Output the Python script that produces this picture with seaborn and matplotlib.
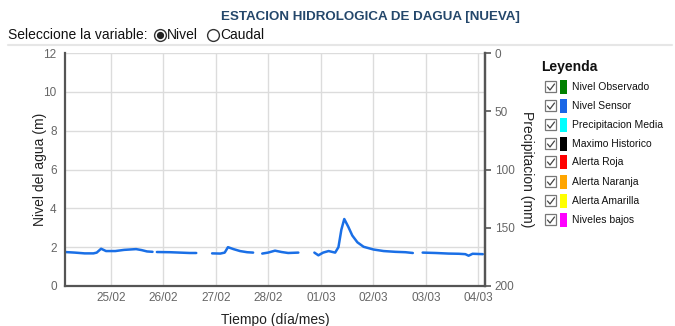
import matplotlib
matplotlib.use("Agg")
import matplotlib.pyplot as plt
import seaborn as sns
import pandas as pd
import numpy as np
from matplotlib.lines import Line2D
from matplotlib.patches import Rectangle
import matplotlib.dates as mdates

# Sensor level readings, one list per continuous stretch (gaps between stretches)
seg_times = [
    ["2023-02-24 03:00", "2023-02-24 07:30", "2023-02-24 12:00", "2023-02-24 16:00",
     "2023-02-24 17:30", "2023-02-24 19:30", "2023-02-24 21:45", "2023-02-25 02:00",
     "2023-02-25 06:00", "2023-02-25 08:45", "2023-02-25 11:30", "2023-02-25 14:00",
     "2023-02-25 16:30", "2023-02-25 19:00"],
    ["2023-02-25 21:00", "2023-02-26 03:00", "2023-02-26 07:30", "2023-02-26 12:00",
     "2023-02-26 15:00"],
    ["2023-02-26 22:15", "2023-02-27 02:00", "2023-02-27 04:00", "2023-02-27 05:30",
     "2023-02-27 08:00", "2023-02-27 11:00", "2023-02-27 14:15", "2023-02-27 17:00"],
    ["2023-02-27 21:10", "2023-02-27 23:50", "2023-02-28 03:00", "2023-02-28 06:00",
     "2023-02-28 09:00", "2023-02-28 13:40"],
    ["2023-02-28 21:00", "2023-02-28 22:50", "2023-03-01 01:00", "2023-03-01 03:30",
     "2023-03-01 06:30", "2023-03-01 08:00", "2023-03-01 09:20", "2023-03-01 10:40",
     "2023-03-01 12:30", "2023-03-01 14:20", "2023-03-01 16:40", "2023-03-01 19:30",
     "2023-03-02 00:00", "2023-03-02 04:40", "2023-03-02 10:00", "2023-03-02 14:40",
     "2023-03-02 18:00"],
    ["2023-03-02 22:30", "2023-03-03 04:30", "2023-03-03 10:20", "2023-03-03 15:00",
     "2023-03-03 18:00", "2023-03-03 19:30", "2023-03-03 21:20", "2023-03-04 02:00"],
]
seg_levels = [
    [1.75, 1.72, 1.68, 1.68, 1.72, 1.92, 1.80, 1.80, 1.86, 1.88, 1.90, 1.85, 1.78, 1.76],
    [1.75, 1.74, 1.72, 1.70, 1.70],
    [1.68, 1.67, 1.72, 2.00, 1.90, 1.80, 1.74, 1.72],
    [1.67, 1.72, 1.82, 1.75, 1.70, 1.72],
    [1.72, 1.58, 1.72, 1.80, 1.72, 2.00, 2.90, 3.45, 3.05, 2.60, 2.25, 2.02, 1.88,
     1.80, 1.76, 1.74, 1.70],
    [1.72, 1.70, 1.67, 1.66, 1.64, 1.56, 1.66, 1.64],
]

x_start, x_end = "2023-02-24 03:00", "2023-03-04 03:00"
level_ticks = [0, 2, 4, 6, 8, 10, 12]
precip_ticks = [0, 50, 100, 150, 200]

legend_labels = ["Nivel Observado", "Nivel Sensor", "Precipitacion Media",
                 "Maximo Historico", "Alerta Roja", "Alerta Naranja",
                 "Alerta Amarilla", "Niveles bajos"]
legend_colors = ["#008000", "#1a66e6", "#00ffff", "#000000", "#ff0000",
                 "#ffa500", "#ffff00", "#ff00ff"]

sns.set_theme(style="white")
plt.rcParams["font.family"] = ["Liberation Sans", "DejaVu Sans"]

fig = plt.figure(figsize=(6.75, 3.26), dpi=100)
W, H = 675, 326


def fx(px):
    return px / W


def fy(py):
    return 1 - py / H


ax = fig.add_axes([fx(65), fy(286), fx(485) - fx(65), fy(53) - fy(286)])

# Join stretches with NaN breaks so the line shows gaps
frames = []
for i, (t, v) in enumerate(zip(seg_times, seg_levels)):
    frames.append(pd.DataFrame({"tiempo": pd.to_datetime(t), "nivel": v}))
    if i < len(seg_times) - 1:
        gap_t = pd.to_datetime(t[-1]) + pd.Timedelta(minutes=30)
        frames.append(pd.DataFrame({"tiempo": [gap_t], "nivel": [np.nan]}))
df = pd.concat(frames, ignore_index=True)

ax.plot(df["tiempo"], df["nivel"], color="#1a6fe6", lw=1.8, solid_capstyle="round",
        solid_joinstyle="round")

ax.set_xlim(pd.Timestamp(x_start), pd.Timestamp(x_end))
ax.set_ylim(0, 12)
ax.set_yticks(level_ticks)
ax.xaxis.set_major_locator(mdates.DayLocator(bymonthday=[25, 26, 27, 28, 1, 2, 3, 4]))
ax.xaxis.set_major_formatter(mdates.DateFormatter("%d/%m"))
ax.grid(True, color="#dcdcdc", lw=1.0)
ax.set_axisbelow(True)
ax.tick_params(axis="both", length=0, labelsize=8.5, labelcolor="#666666", pad=4)
ax.tick_params(axis="y", pad=6)
for side in ["left", "bottom", "right"]:
    ax.spines[side].set_color("#555555")
    ax.spines[side].set_linewidth(1.6)
ax.spines["top"].set_visible(False)
ax.set_ylabel("Nivel del agua (m)", fontsize=10, color="#222222", va="center")
ax.yaxis.set_label_coords(-0.06, 0.5)
ax.set_xlabel("Tiempo (día/mes)", fontsize=10, color="#222222", va="center")
ax.xaxis.set_label_coords(0.5, -0.146)

ax2 = ax.twinx()
ax2.set_ylim(200, 0)
ax2.set_yticks(precip_ticks)
ax2.tick_params(axis="y", length=4, width=1.2, color="#555555", labelsize=8.5,
                labelcolor="#666666", pad=3)
for side in ["left", "bottom", "top"]:
    ax2.spines[side].set_visible(False)
ax2.spines["right"].set_color("#555555")
ax2.spines["right"].set_linewidth(1.6)
ax2.set_ylabel("Precipitacion (mm)", fontsize=10, color="#222222", rotation=270,
               va="center")
ax2.yaxis.set_label_coords(1.1, 0.5)

# Header
fig.text(fx(370), fy(17), "ESTACION HIDROLOGICA DE DAGUA [NUEVA]", ha="center",
         va="center", fontsize=9.6, fontweight="bold", color="#24476b")
fig.text(fx(8), fy(35), "Seleccione la variable:", ha="left", va="center",
         fontsize=10, color="#111111")
fig.add_artist(Line2D([fx(160)], [fy(35)], marker="o", ms=8.5, mfc="white",
                      mec="#333333", mew=1.0, transform=fig.transFigure))
fig.add_artist(Line2D([fx(160)], [fy(35)], marker="o", ms=4.2, mfc="#222222",
                      mec="#222222", transform=fig.transFigure))
fig.text(fx(167), fy(35), "Nivel", ha="left", va="center", fontsize=10, color="#111111")
fig.add_artist(Line2D([fx(213)], [fy(35)], marker="o", ms=8.5, mfc="white",
                      mec="#333333", mew=1.0, transform=fig.transFigure))
fig.text(fx(220), fy(35), "Caudal", ha="left", va="center", fontsize=10, color="#111111")
fig.add_artist(Line2D([fx(8), fx(672)], [fy(44.5), fy(44.5)], color="#e6e6e6",
                      lw=1.5, transform=fig.transFigure))

# Legend panel
fig.text(fx(541), fy(67), "Leyenda", ha="left", va="center", fontsize=10,
         fontweight="bold", color="#111111")
row_y = [87, 106, 125, 144, 162, 182, 201, 220]
for yy, lab, col in zip(row_y, legend_labels, legend_colors):
    fig.add_artist(Rectangle((fx(545), fy(yy + 5)), fx(11), fy(0) - fy(11),
                             transform=fig.transFigure, fc="white", ec="#777777", lw=0.9))
    fig.add_artist(Line2D([fx(547.5), fx(550), fx(554.5)], [fy(yy), fy(yy + 3), fy(yy - 3)],
                          color="#444444", lw=0.9, transform=fig.transFigure))
    fig.add_artist(Rectangle((fx(560), fy(yy + 7)), fx(7), fy(0) - fy(14),
                             transform=fig.transFigure, fc=col, ec="none"))
    fig.text(fx(572), fy(yy), lab, ha="left", va="center", fontsize=7.5, color="#111111")

fig.savefig("out.png", dpi=100)
